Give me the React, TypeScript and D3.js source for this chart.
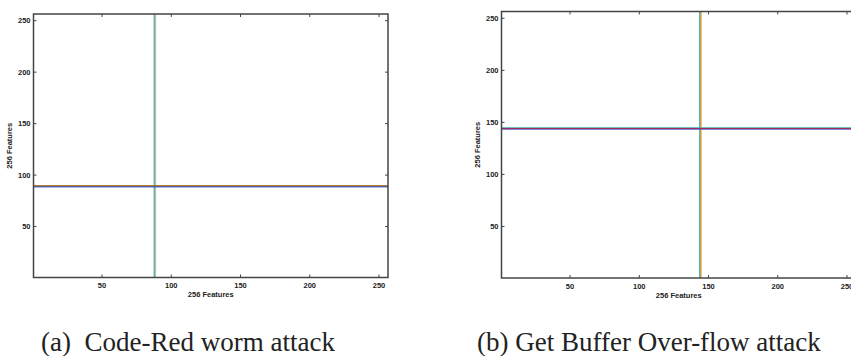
import { useRef, useEffect } from "react";
import * as d3 from "d3";

const DOMAIN: [number, number] = [0.5, 256.5];
const TICKS = [50, 100, 150, 200, 250];
const AXIS_LABEL = "256 Features";

// Panel (a): Code-Red worm attack
const codeRedVertical = [
  { value: 87.3, color: "#a9d6ea" },
  { value: 88.0, color: "#7e9a3c" },
  { value: 88.7, color: "#8cc4dc" },
];
const codeRedHorizontal = [
  { value: 89.8, color: "#c8962a" },
  { value: 89.2, color: "#6b3a1c" },
  { value: 88.5, color: "#3550c8" },
];

// Panel (b): Get Buffer Over-flow attack
const bufferVertical = [
  { value: 143.5, color: "#48b8c8" },
  { value: 144.1, color: "#9aaa50" },
  { value: 144.6, color: "#e08a28" },
];
const bufferHorizontal = [
  { value: 144.8, color: "#3aa8a0" },
  { value: 144.1, color: "#b0203c" },
  { value: 143.4, color: "#5a58c8" },
];

const captions = ["(a)  Code-Red worm attack", "(b) Get Buffer Over-flow attack"];

type Line = { value: number; color: string };

interface PanelSpec {
  x0: number;
  x1: number;
  yTop: number;
  yBottom: number;
  vertical: Line[];
  horizontal: Line[];
  caption: string;
  captionX: number;
}

export default function App() {
  const svgRef = useRef<SVGSVGElement>(null);

  useEffect(() => {
    if (!svgRef.current) return;
    const svg = d3.select(svgRef.current);
    svg.selectAll("*").remove();

    const panels: PanelSpec[] = [
      { x0: 33.5, x1: 388, yTop: 14, yBottom: 277.5, vertical: codeRedVertical, horizontal: codeRedHorizontal, caption: captions[0], captionX: 41 },
      { x0: 501.5, x1: 856, yTop: 11.5, yBottom: 278, vertical: bufferVertical, horizontal: bufferHorizontal, caption: captions[1], captionX: 477 },
    ];

    const font = "'Liberation Sans', Arial, sans-serif";

    panels.forEach((p) => {
      const x = d3.scaleLinear().domain(DOMAIN).range([p.x0, p.x1]);
      const y = d3.scaleLinear().domain(DOMAIN).range([p.yBottom, p.yTop]);
      const g = svg.append("g");

      // data lines
      g.selectAll(".vline")
        .data(p.vertical)
        .join("line")
        .attr("class", "vline")
        .attr("x1", (d) => x(d.value))
        .attr("x2", (d) => x(d.value))
        .attr("y1", p.yTop)
        .attr("y2", p.yBottom)
        .attr("stroke", (d) => d.color)
        .attr("stroke-width", 1);

      g.selectAll(".hline")
        .data(p.horizontal)
        .join("line")
        .attr("class", "hline")
        .attr("x1", p.x0)
        .attr("x2", p.x1)
        .attr("y1", (d) => y(d.value))
        .attr("y2", (d) => y(d.value))
        .attr("stroke", (d) => d.color)
        .attr("stroke-width", 1);

      // inward ticks on all four sides
      const tickLen = 3;
      const tickG = g.append("g").attr("stroke", "#444").attr("stroke-width", 1);
      TICKS.forEach((t) => {
        if (x(t) < p.x1 - 1) {
          tickG.append("line").attr("x1", x(t)).attr("x2", x(t)).attr("y1", p.yBottom).attr("y2", p.yBottom - tickLen);
          tickG.append("line").attr("x1", x(t)).attr("x2", x(t)).attr("y1", p.yTop).attr("y2", p.yTop + tickLen);
        }
        tickG.append("line").attr("x1", p.x0).attr("x2", p.x0 + tickLen).attr("y1", y(t)).attr("y2", y(t));
        tickG.append("line").attr("x1", p.x1).attr("x2", p.x1 - tickLen).attr("y1", y(t)).attr("y2", y(t));
      });

      // frame
      g.append("rect")
        .attr("x", p.x0)
        .attr("y", p.yTop)
        .attr("width", p.x1 - p.x0)
        .attr("height", p.yBottom - p.yTop)
        .attr("fill", "none")
        .attr("stroke", "#444")
        .attr("stroke-width", 1.5);

      const small = (sel: d3.Selection<any, any, any, any>) =>
        sel
          .style("font-family", font)
          .style("font-size", "7.5px")
          .style("font-weight", "bold")
          .style("fill", "#222");

      // tick labels
      g.selectAll(".xt")
        .data(TICKS)
        .join("text")
        .attr("class", "xt")
        .attr("x", (d) => x(d))
        .attr("y", p.yBottom + 10.5)
        .attr("text-anchor", "middle")
        .call(small)
        .text((d) => d);

      g.selectAll(".yt")
        .data(TICKS)
        .join("text")
        .attr("class", "yt")
        .attr("x", p.x0 - 3)
        .attr("y", (d) => y(d) + 2.7)
        .attr("text-anchor", "end")
        .call(small)
        .text((d) => d);

      // axis labels
      g.append("text")
        .attr("x", (p.x0 + p.x1) / 2)
        .attr("y", p.yBottom + 19.5)
        .attr("text-anchor", "middle")
        .call(small)
        .text(AXIS_LABEL);

      g.append("text")
        .attr("transform", `translate(${p.x0 - 22},${(p.yTop + p.yBottom) / 2}) rotate(-90)`)
        .attr("text-anchor", "middle")
        .call(small)
        .text(AXIS_LABEL);

      // caption
      g.append("text")
        .attr("x", p.captionX)
        .attr("y", 350.5)
        .style("white-space", "pre")
        .style("font-family", "'Liberation Serif', 'Times New Roman', serif")
        .style("font-size", "27px")
        .style("fill", "#222")
        .text(p.caption);
    });
  }, []);

  return (
    <svg
      ref={svgRef}
      width={851}
      height={356}
      style={{ position: "absolute", left: 0, top: 0, background: "#fff" }}
    />
  );
}
